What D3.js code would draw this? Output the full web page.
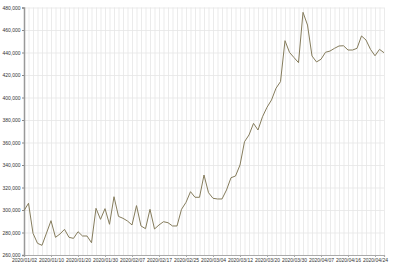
<!DOCTYPE html>
<html>
<head>
<meta charset="utf-8">
<script src="https://cdn.jsdelivr.net/npm/d3@7"></script>
<style>
    body { margin: 0; background: #fff; }
    .axis text { font-family: "Liberation Sans", Arial, sans-serif; font-size: 5px; fill: #333; }
    .grid line { stroke: #e6e6e6; stroke-width: 0.8; }
    .grid .domain { display: none; }
</style>
</head>
<body>
<div id="chart"></div>
<script>
// trading days (KRX, 2020)
const dates = [
    "2020/01/02", "2020/01/03", "2020/01/06", "2020/01/07", "2020/01/08", "2020/01/09", "2020/01/10",
    "2020/01/13", "2020/01/14", "2020/01/15", "2020/01/16", "2020/01/17", "2020/01/20", "2020/01/21",
    "2020/01/22", "2020/01/23", "2020/01/28", "2020/01/29", "2020/01/30", "2020/01/31",
    "2020/02/03", "2020/02/04", "2020/02/05", "2020/02/06", "2020/02/07", "2020/02/10", "2020/02/11",
    "2020/02/12", "2020/02/13", "2020/02/14", "2020/02/17", "2020/02/18", "2020/02/19", "2020/02/20",
    "2020/02/21", "2020/02/24", "2020/02/25", "2020/02/26", "2020/02/27", "2020/02/28",
    "2020/03/02", "2020/03/03", "2020/03/04", "2020/03/05", "2020/03/06", "2020/03/09", "2020/03/10",
    "2020/03/11", "2020/03/12", "2020/03/13", "2020/03/16", "2020/03/17", "2020/03/18", "2020/03/19",
    "2020/03/20", "2020/03/23", "2020/03/24", "2020/03/25", "2020/03/26", "2020/03/27", "2020/03/30",
    "2020/03/31",
    "2020/04/01", "2020/04/02", "2020/04/03", "2020/04/06", "2020/04/07", "2020/04/08", "2020/04/09",
    "2020/04/10", "2020/04/13", "2020/04/14", "2020/04/16", "2020/04/17", "2020/04/20", "2020/04/21",
    "2020/04/22", "2020/04/23", "2020/04/24", "2020/04/27", "2020/04/28"
];

// 读图估计的数值
const values = [
    299400, 306000, 279300, 270400, 268600, 279500, 290500, 275700, 278700, 282800,
    275700, 274800, 280700, 276900, 276900, 270900, 301500, 291700, 301200, 287300,
    311800, 294300, 292600, 290200, 286700, 303900, 285800, 283400, 300600, 283100,
    286700, 289600, 288700, 285800, 285800, 300600, 306800, 316300, 311300, 311300,
    331100, 315400, 310400, 309800, 309800, 317800, 328700, 330200, 340000, 360700,
    366700, 377000, 371100, 382900, 391300, 397800, 408200, 414100, 450500, 440100,
    435500, 431000, 475700, 464400, 436900, 431600, 434000, 440200, 441300, 443700,
    445800, 446000, 442200, 442200, 443700, 454700, 451100, 442800, 437100, 442800,
    439800
];

const tickDates = dates.filter((d, i) => i % 6 === 0);
const yTicks = [260000, 280000, 300000, 320000, 340000, 360000, 380000, 400000, 420000, 440000, 460000, 480000];

// 尺寸
const W = 400, H = 267;
const margin = {top: 7.5, right: 16, bottom: 12, left: 24};
const plotBottom = H - margin.bottom;
const plotRight = W - margin.right;

const svg = d3.select("#chart").append("svg")
    .attr("width", W)
    .attr("height", H);

const x = d3.scalePoint()
    .domain(dates)
    .range([margin.left, plotRight]);

const y = d3.scaleLinear()
    .domain([260000, 480000])
    .range([plotBottom, margin.top]);

// 辅助线
svg.append("g")
    .attr("class", "grid")
    .attr("transform", "translate(0," + margin.top + ")")
    .call(d3.axisTop(x).tickSize(-(plotBottom - margin.top)).tickFormat(""));

svg.append("g")
    .attr("class", "grid")
    .attr("transform", "translate(" + margin.left + ",0)")
    .call(d3.axisLeft(y).tickValues(yTicks).tickSize(-(plotRight - margin.left)).tickFormat(""));

// 横纵轴
const xAxis = svg.append("g")
    .attr("class", "x axis")
    .attr("transform", "translate(0," + plotBottom + ")")
    .call(d3.axisBottom(x).tickValues(tickDates).tickSize(2).tickPadding(1.5));
xAxis.select(".domain").attr("stroke", "#aaa").attr("stroke-width", 1.2);
xAxis.selectAll(".tick line").attr("stroke", "#aaa");

const yAxis = svg.append("g")
    .attr("class", "y axis")
    .attr("transform", "translate(" + margin.left + ",0)")
    .call(d3.axisLeft(y).tickValues(yTicks).tickFormat(d3.format(",")).tickSize(2).tickPadding(1.5));
yAxis.select(".domain").attr("stroke", "#999").attr("stroke-width", 1.5);
yAxis.selectAll(".tick line").attr("stroke", "#888");

// 折线
const line = d3.line()
    .x((d, i) => x(dates[i]))
    .y(d => y(d));

svg.append("path")
    .datum(values)
    .attr("fill", "none")
    .attr("stroke", "#857c5c")
    .attr("stroke-width", 1)
    .attr("d", line);
</script>
</body>
</html>
